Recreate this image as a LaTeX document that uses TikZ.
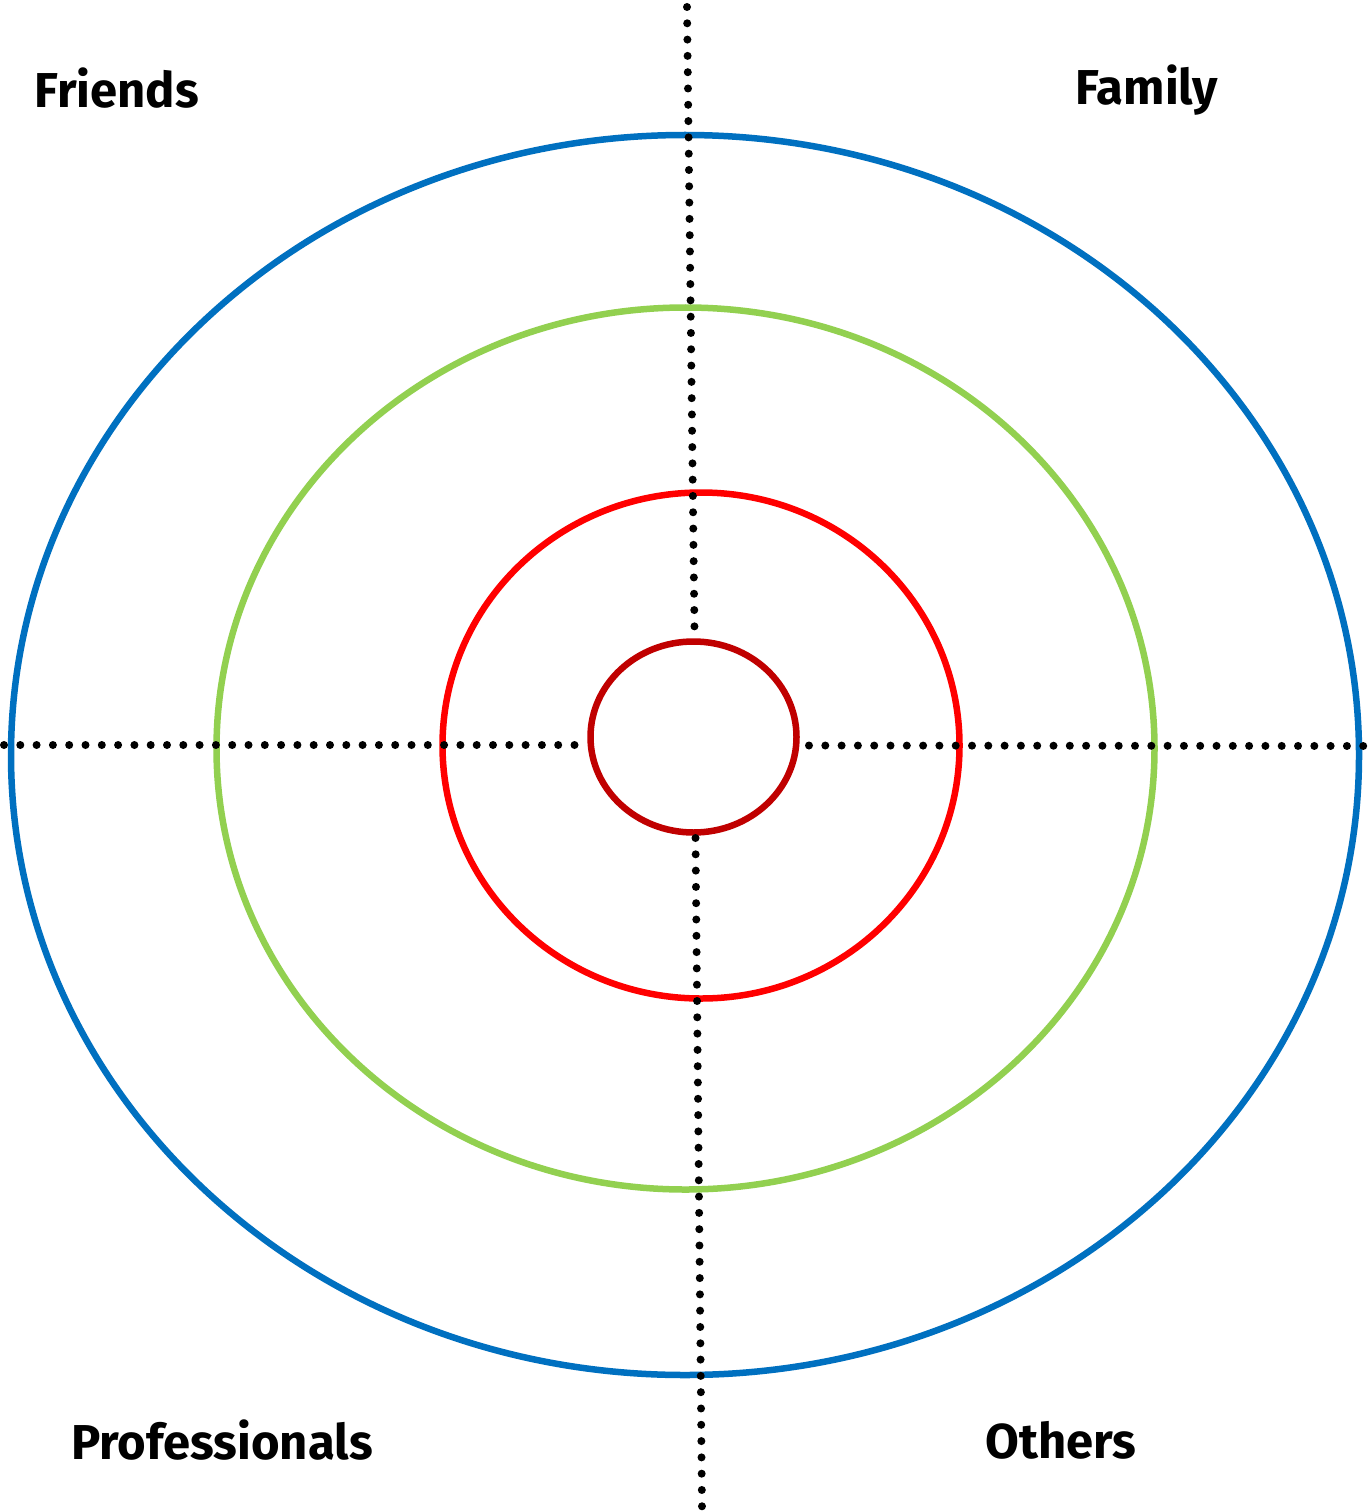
\documentclass[tikz,border=0pt]{standalone}
\usepackage{fontspec}
\setmainfont{Fira Sans}
\definecolor{ringblue}{HTML}{0070C0}
\definecolor{ringgreen}{HTML}{92D050}
\definecolor{ringred}{HTML}{FF0000}
\definecolor{ringdark}{HTML}{C00000}
\begin{document}
\begin{tikzpicture}[x=1pt,y=-1pt,
  ring/.style={line width=6.5pt},
  dotline/.style={line width=8pt,line cap=round,dash pattern=on 0pt off 16.3pt},
  lbl/.style={font=\fontsize{49}{54}\selectfont\bfseries,inner sep=0pt}]
\useasboundingbox (0,0) rectangle (1369,1511);
\fill[white] (0,0) rectangle (1369,1511);
\draw[ring,ringblue] (685,755) ellipse [x radius=674, y radius=620];
\draw[ring,ringgreen] (685.5,748.5) ellipse [x radius=469, y radius=441];
\draw[ring,ringred] (701,745.5) ellipse [x radius=258.5, y radius=253];
\draw[ring,ringdark] (693.5,737) ellipse [x radius=103, y radius=95.5];
\coordinate (vt) at (687,7);
\coordinate (vm) at (694.5,631);
\coordinate (vb1) at (695.5,838);
\coordinate (vb) at (702,1508);
\coordinate (hl) at (4,745);
\coordinate (hm) at (586,745);
\coordinate (hr1) at (809,745.5);
\coordinate (hr) at (1366,746);
\draw[dotline] (vt) -- (vm);
\draw[dotline] (vb1) -- (vb);
\draw[dotline] (hl) -- (hm);
\draw[dotline] (hr1) -- (hr);
\node[lbl] (friends) at (117,88) {Friends};
\node[lbl] (family) at (1147,90) {Family};
\node[lbl] (prof) at (222,1440) {Professionals};
\node[lbl] (others) at (1061,1440) {Others};
\end{tikzpicture}
\end{document}
